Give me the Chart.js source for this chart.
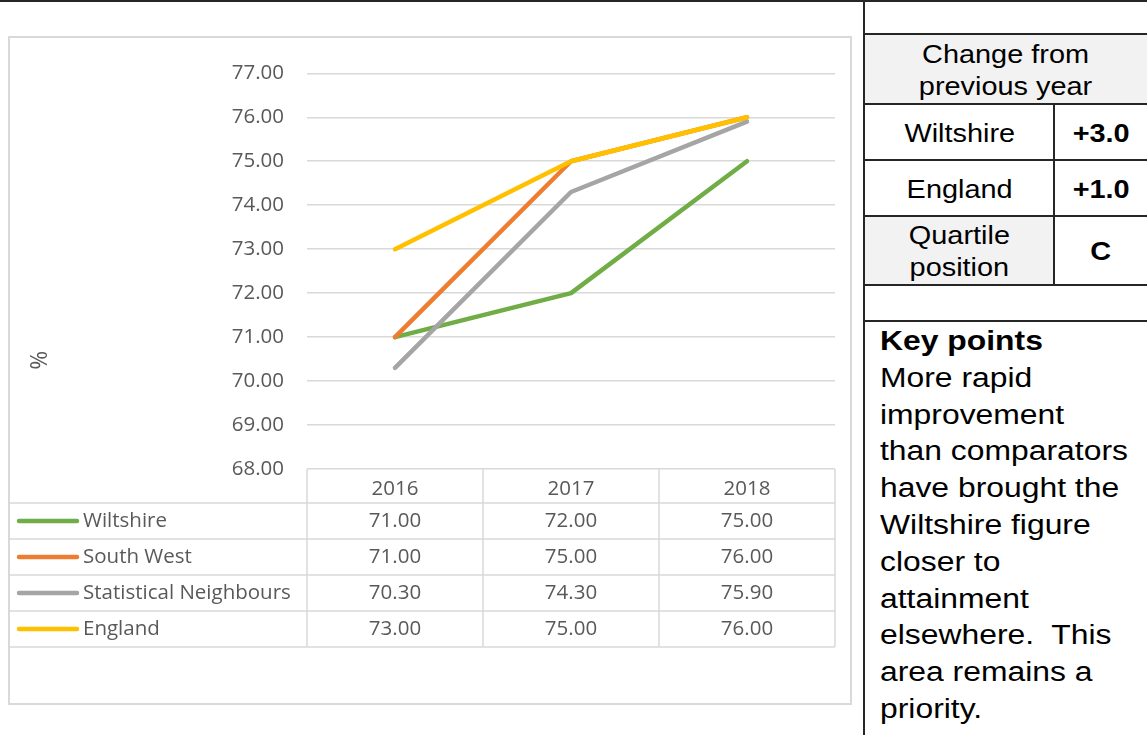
<!DOCTYPE html>
<html>
<head>
<meta charset="utf-8">
<title>Wiltshire attainment</title>
<script src="https://cdn.jsdelivr.net/npm/chart.js@4.4.1/dist/chart.umd.min.js"></script>
<style>
  html, body { margin: 0; padding: 0; background: #fff; }
  body { width: 1147px; height: 735px; position: relative; overflow: hidden; font-family: 'Liberation Sans', Arial, sans-serif; color: #000; }
  .rule { position: absolute; background: #262626; }
  #chartBox { position: absolute; left: 8px; top: 36px; width: 844px; height: 669px; border: 2px solid #d9d9d9; box-sizing: border-box; }
  #chartBox canvas { display: block; }
  .cell { position: absolute; display: flex; align-items: center; justify-content: center; text-align: center; font-size: 26.5px; line-height: 32px; box-sizing: border-box; }
  .cell span { display: inline-block; transform: scaleX(1.09); }
  .grey { background: #f2f2f2; }
  .bold { font-weight: bold; }
  #keyPoints { position: absolute; left: 880px; top: 323px; font-size: 27px; line-height: 36.8px; transform: scaleX(1.18); transform-origin: left top; white-space: nowrap; }
</style>
</head>
<body>
<div class="rule" style="left:0;top:0;width:1147px;height:2px"></div>
<div class="rule" style="left:863px;top:0;width:2px;height:735px"></div>

<div id="chartBox"><canvas id="trend" width="840" height="665"></canvas></div>

<!-- right hand summary table -->
<div class="cell grey" style="left:865px;top:35px;width:282px;height:69px"><span>Change from<br>previous year</span></div>
<div class="cell" style="left:865px;top:105px;width:189px;height:55px"><span>Wiltshire</span></div>
<div class="cell bold" style="left:1055px;top:105px;width:92px;height:55px"><span>+3.0</span></div>
<div class="cell" style="left:865px;top:161px;width:189px;height:55px"><span>England</span></div>
<div class="cell bold" style="left:1055px;top:161px;width:92px;height:55px"><span>+1.0</span></div>
<div class="cell grey" style="left:865px;top:217px;width:189px;height:68px"><span>Quartile<br>position</span></div>
<div class="cell bold" style="left:1055px;top:217px;width:92px;height:68px"><span>C</span></div>

<div class="rule" style="left:865px;top:33px;width:282px;height:2px"></div>
<div class="rule" style="left:865px;top:103px;width:282px;height:2px"></div>
<div class="rule" style="left:865px;top:159px;width:282px;height:2px"></div>
<div class="rule" style="left:865px;top:215px;width:282px;height:2px"></div>
<div class="rule" style="left:865px;top:284px;width:282px;height:2px"></div>
<div class="rule" style="left:865px;top:320px;width:282px;height:2px"></div>
<div class="rule" style="left:1053px;top:104px;width:2px;height:181px"></div>

<div id="keyPoints"><b>Key points</b><br>More rapid<br>improvement<br>than comparators<br>have brought the<br>Wiltshire figure<br>closer to<br>attainment<br>elsewhere.&nbsp; This<br>area remains a<br>priority.</div>

<script>
// chart data
const years = ['2016', '2017', '2018'];
const seriesNames = ['Wiltshire', 'South West', 'Statistical Neighbours', 'England'];
const wiltshire = [71.00, 72.00, 75.00];
const southWest = [71.00, 75.00, 76.00];
const statNeighbours = [70.30, 74.30, 75.90];
const england = [73.00, 75.00, 76.00];
const yMin = 68;
const yMax = 77;

const seriesValues = [wiltshire, southWest, statNeighbours, england];
const seriesColours = ['#70ad47', '#ed7d31', '#a5a5a5', '#ffc000'];

const TEXT = '#595959';
const GRID = '#d9d9d9';
const FONT = "20.5px 'Open Sans', sans-serif";
const HEADER_H = 34;
const ROW_H = 36;

Chart.defaults.font.family = "'Open Sans', sans-serif";
Chart.defaults.font.size = 20.5;
Chart.defaults.color = TEXT;

// Excel style data table under the plot, plus the rotated "%" axis label
const dataTable = {
    id: 'dataTable',
    afterDraw(chart) {
        const { ctx, chartArea, scales } = chart;
        const x = scales.x;
        const step = x.getPixelForValue(1) - x.getPixelForValue(0);
        const top = chartArea.bottom;
        const headBottom = top + HEADER_H;
        const tableBottom = headBottom + ROW_H * seriesNames.length;

        ctx.save();
        ctx.strokeStyle = GRID;
        ctx.lineWidth = 1.5;
        ctx.beginPath();
        for (let i = 0; i <= years.length; i++) {
            const px = chartArea.left + i * step;
            ctx.moveTo(px, top);
            ctx.lineTo(px, tableBottom);
        }
        for (let r = 0; r <= seriesNames.length; r++) {
            const py = headBottom + r * ROW_H;
            ctx.moveTo(0, py);
            ctx.lineTo(chartArea.right, py);
        }
        ctx.stroke();

        ctx.font = FONT;
        ctx.textBaseline = 'middle';
        seriesNames.forEach((name, r) => {
            const cy = headBottom + r * ROW_H + ROW_H / 2;
            // legend key
            ctx.strokeStyle = seriesColours[r];
            ctx.lineWidth = 4.5;
            ctx.lineCap = 'round';
            ctx.beginPath();
            ctx.moveTo(9, cy);
            ctx.lineTo(67, cy);
            ctx.stroke();
            ctx.fillStyle = TEXT;
            ctx.textAlign = 'left';
            ctx.fillText(name, 73, cy);
            ctx.textAlign = 'center';
            seriesValues[r].forEach((v, i) => {
                ctx.fillText(v.toFixed(2), x.getPixelForValue(i), cy);
            });
        });

        // axis title, centred on plot + table like Excel does
        ctx.translate(30, (chartArea.top + tableBottom) / 2);
        ctx.rotate(-Math.PI / 2);
        ctx.textAlign = 'center';
        ctx.fillStyle = TEXT;
        ctx.font = "23px 'Open Sans', sans-serif";
        ctx.fillText('%', 0, 0);
        ctx.restore();
    }
};

const ctx = document.getElementById('trend').getContext('2d');
new Chart(ctx, {
    type: 'line',
    data: {
        labels: years,
        datasets: seriesNames.map((name, i) => ({
            label: name,
            data: seriesValues[i],
            borderColor: seriesColours[i],
            backgroundColor: seriesColours[i],
            borderWidth: 4.5,
            borderCapStyle: 'round',
            borderJoinStyle: 'round',
            pointRadius: 0,
            pointHoverRadius: 0,
            tension: 0,
            order: seriesNames.length - i
        }))
    },
    options: {
        responsive: false,
        animation: false,
        events: [],
        layout: { padding: { left: 0, top: 34, right: 15, bottom: 200 } },
        plugins: {
            legend: { display: false },
            tooltip: { enabled: false }
        },
        scales: {
            x: {
                offset: true,
                grid: { display: false },
                border: { display: false },
                ticks: { padding: 0, maxRotation: 0 },
                afterFit(scale) { scale.height = HEADER_H; }
            },
            y: {
                min: yMin,
                max: yMax,
                ticks: {
                    stepSize: 1,
                    padding: 23,
                    callback: v => v.toFixed(2)
                },
                grid: { color: GRID, lineWidth: 1.5, drawTicks: false },
                border: { display: false },
                afterFit(scale) { scale.width = 297; }
            }
        }
    },
    plugins: [dataTable]
});
</script>
</body>
</html>
